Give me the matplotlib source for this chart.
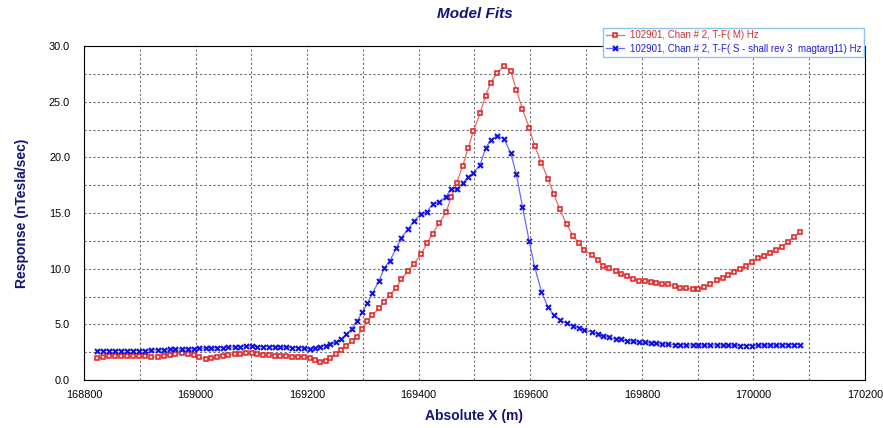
import matplotlib
matplotlib.use("Agg")
import matplotlib.pyplot as plt
from matplotlib.ticker import MultipleLocator, FormatStrFormatter

plt.rcParams['font.family'] = ['Liberation Sans', 'DejaVu Sans']

# station positions (m) and responses (nTesla/sec)
x_m = [168823, 168834, 168844, 168855, 168866, 168877, 168888, 168899, 168910, 168921,
       168932, 168943, 168954, 168964, 168975, 168986, 168997, 169007, 169018, 169028,
       169038, 169049, 169059, 169070, 169080, 169091, 169101, 169111, 169121, 169132,
       169142, 169152, 169163, 169173, 169184, 169194, 169205, 169214, 169223, 169233,
       169241, 169251, 169261, 169270, 169280, 169289, 169299, 169308, 169317, 169329,
       169338, 169348, 169360, 169369, 169381, 169391, 169404, 169415, 169425, 169437,
       169449, 169458, 169468, 169479, 169489, 169498, 169510, 169520, 169529, 169541,
       169553, 169565, 169575, 169586, 169598, 169608, 169620, 169632, 169642, 169653,
       169665, 169677, 169687, 169697, 169710, 169721, 169731, 169741, 169753, 169762,
       169773, 169784, 169795, 169805, 169816, 169826, 169837, 169847, 169859, 169868,
       169880, 169891, 169901, 169912, 169923, 169935, 169946, 169955, 169965, 169976,
       169986, 169998, 170008, 170019, 170029, 170040, 170051, 170062, 170073, 170084]

measured = [1.98, 2.10, 2.13, 2.19, 2.13, 2.13, 2.13, 2.16, 2.16, 2.04,
            2.10, 2.19, 2.25, 2.31, 2.40, 2.34, 2.22, 2.05, 1.90, 1.95,
            2.10, 2.20, 2.28, 2.30, 2.34, 2.40, 2.46, 2.34, 2.28, 2.22,
            2.19, 2.16, 2.16, 2.10, 2.10, 2.07, 2.00, 1.80, 1.65, 1.74,
            1.95, 2.30, 2.70, 3.10, 3.50, 3.90, 4.60, 5.30, 5.85, 6.45,
            7.00, 7.65, 8.30, 9.05, 9.80, 10.40, 11.30, 12.28, 13.15, 14.10,
            15.06, 16.40, 17.73, 19.26, 20.88, 22.37, 23.96, 25.55, 26.70, 27.60,
            28.20, 27.76, 26.08, 24.32, 22.67, 21.02, 19.52, 18.03, 16.71, 15.33,
            13.99, 12.94, 12.34, 11.68, 11.23, 10.78, 10.27, 10.03, 9.82, 9.52,
            9.34, 9.07, 8.92, 8.92, 8.83, 8.69, 8.60, 8.60, 8.45, 8.24,
            8.24, 8.15, 8.15, 8.33, 8.60, 8.98, 9.19, 9.43, 9.73, 9.97,
            10.24, 10.60, 10.93, 11.14, 11.38, 11.68, 11.98, 12.43, 12.88, 13.27]

synthetic = [2.65, 2.65, 2.65, 2.65, 2.65, 2.65, 2.65, 2.65, 2.65, 2.70,
             2.70, 2.70, 2.75, 2.75, 2.80, 2.80, 2.80, 2.85, 2.85, 2.85,
             2.90, 2.90, 2.95, 2.95, 3.00, 3.05, 3.05, 3.00, 3.00, 3.00,
             3.00, 2.95, 2.95, 2.90, 2.90, 2.85, 2.82, 2.85, 3.00, 3.10,
             3.20, 3.40, 3.68, 4.10, 4.61, 5.27, 6.08, 6.89, 7.79, 8.92,
             10.06, 10.69, 11.86, 12.79, 13.54, 14.26, 14.90, 15.12, 15.81, 16.02,
             16.47, 17.16, 17.16, 17.67, 18.27, 18.57, 19.32, 20.82, 21.56, 21.95,
             21.65, 20.37, 18.48, 15.57, 12.49, 10.13, 7.94, 6.53, 5.84, 5.39,
             5.09, 4.88, 4.70, 4.49, 4.34, 4.13, 3.98, 3.83, 3.68, 3.65,
             3.53, 3.47, 3.39, 3.39, 3.32, 3.29, 3.23, 3.20, 3.17, 3.17,
             3.14, 3.14, 3.14, 3.14, 3.14, 3.14, 3.14, 3.14, 3.12, 3.10,
             3.10, 3.10, 3.12, 3.14, 3.14, 3.14, 3.14, 3.18, 3.18, 3.18]

label_m = "102901, Chan # 2, T-F( M) Hz"
label_s = "102901, Chan # 2, T-F( S - shall rev 3  magtarg11) Hz"

navy = "#141478"

fig = plt.figure(figsize=(8.83, 4.28), dpi=100)
ax = fig.add_axes([0.0951, 0.1121, 0.8845, 0.7804])

ax.plot(x_m, measured, color="#e86a6a", lw=0.9, marker="s", ms=3.5,
        mfc="#fbe0e0", mec="#e02020", mew=1.1, label=label_m, zorder=3)
ax.plot(x_m, synthetic, color="#6a6aff", lw=0.9, marker="x", ms=3.6,
        mec="#1010e0", mew=1.5, label=label_s, zorder=4)

ax.set_xlim(168800, 170200)
ax.set_ylim(0, 30)
ax.xaxis.set_major_locator(MultipleLocator(200))
ax.xaxis.set_minor_locator(MultipleLocator(100))
ax.yaxis.set_major_locator(MultipleLocator(5))
ax.yaxis.set_minor_locator(MultipleLocator(2.5))
ax.yaxis.set_major_formatter(FormatStrFormatter("%.1f"))
ax.xaxis.set_major_formatter(FormatStrFormatter("%d"))
ax.tick_params(which="both", length=0, labelsize=7.8)
ax.tick_params(axis="y", pad=10)
ax.tick_params(axis="x", pad=7)
ax.grid(which="both", color="#707070", lw=0.8, ls=(0, (2, 2)))
for s in ax.spines.values():
    s.set_color("black")
    s.set_linewidth(0.8)

ax.set_title("Model Fits", fontsize=11, fontweight="bold", style="italic",
             color=navy, pad=20.5)
ax.set_xlabel("Absolute X (m)", fontsize=10, fontweight="bold", color=navy, labelpad=7)
ax.set_ylabel("Response (nTesla/sec)", fontsize=10, fontweight="bold", color=navy, labelpad=14)

leg = fig.legend(loc="upper right", bbox_to_anchor=(0.984, 0.947), fontsize=7.0,
                 frameon=True, fancybox=False, framealpha=1, edgecolor="#8ec2f0",
                 handlelength=1.8, handletextpad=0.6, borderpad=0.3, labelspacing=0.35)
leg.get_frame().set_linewidth(1.0)
for txt, c in zip(leg.get_texts(), ["#d03030", "#2020e0"]):
    txt.set_color(c)

fig.savefig("out.png", dpi=100)
